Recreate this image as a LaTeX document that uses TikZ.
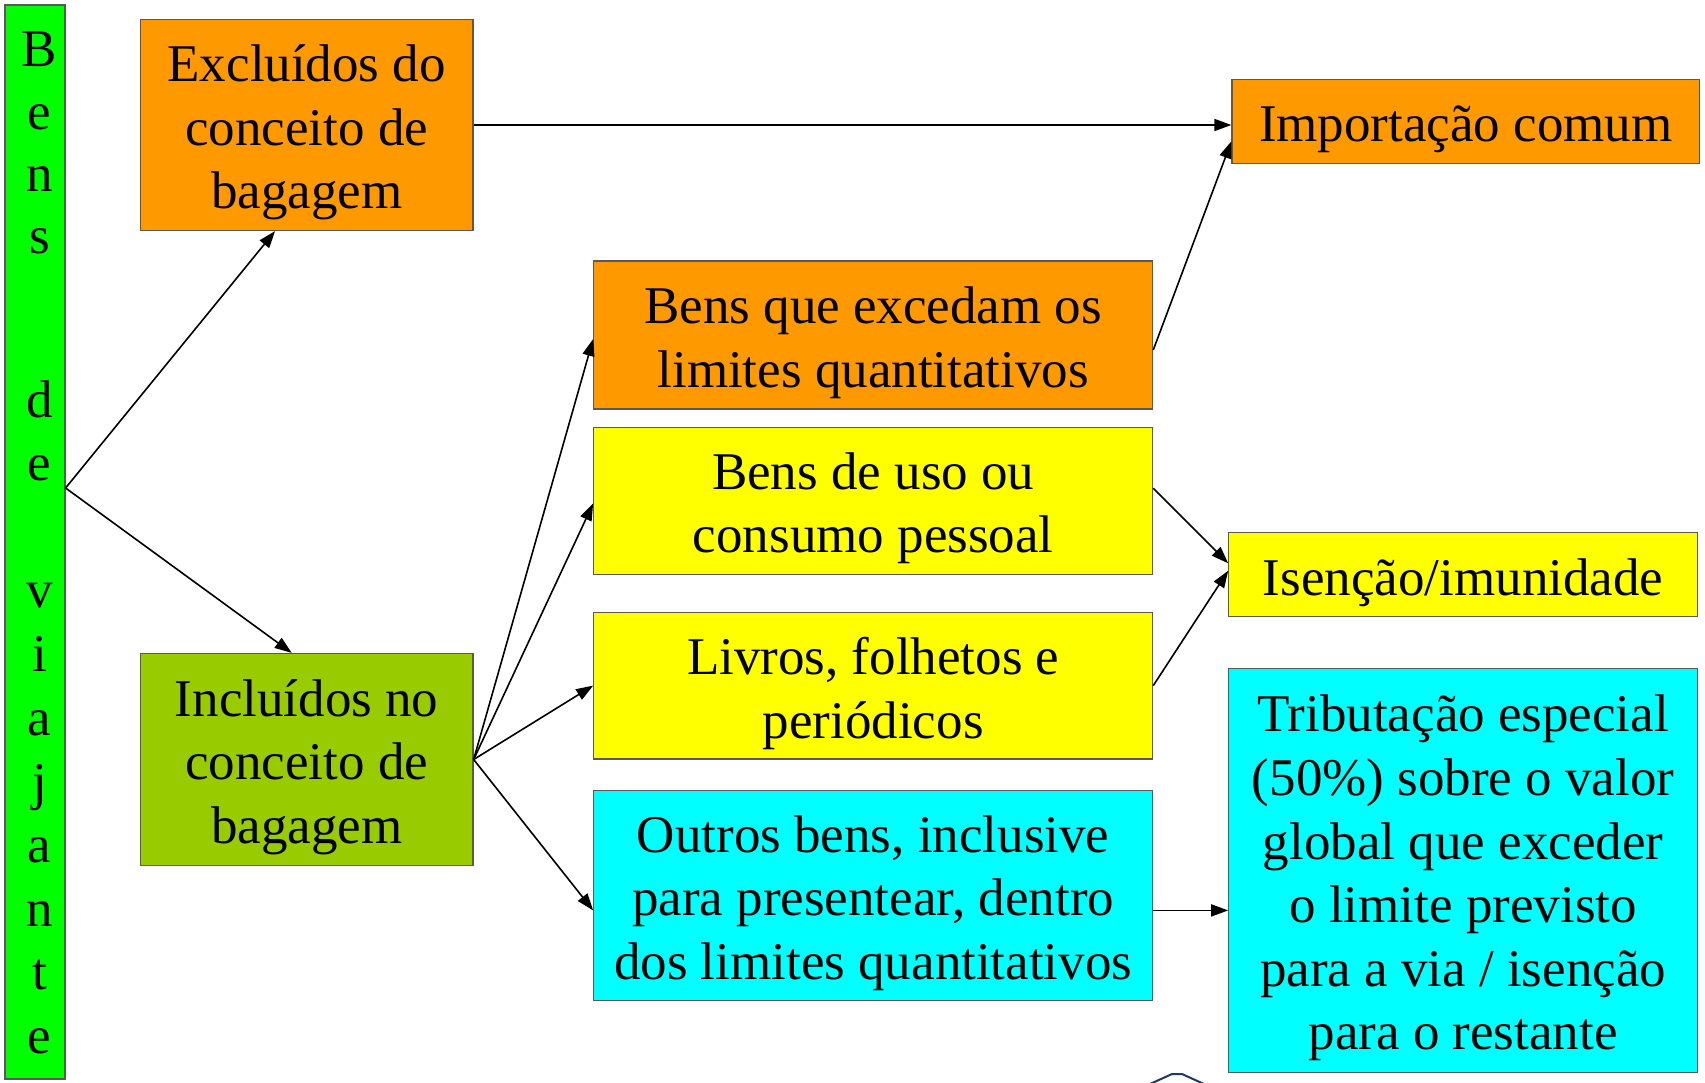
\documentclass[tikz,border=0pt]{standalone}
\usepackage{fontspec}
\setmainfont{Liberation Serif}
\usetikzlibrary{arrows.meta}
\definecolor{cOrange}{HTML}{FF9900}
\definecolor{cOlive}{HTML}{99CC00}
\definecolor{cYellow}{HTML}{FFFF00}
\definecolor{cCyan}{HTML}{00FFFF}
\definecolor{cGreen}{HTML}{00FF00}
\definecolor{cNavy}{HTML}{1F3864}
\begin{document}
\begin{tikzpicture}[x=1pt,y=-1pt,
  box/.style={draw=black!65, line width=1.2pt, inner sep=0pt},
  txt/.style={align=center, inner sep=0pt, font=\fontsize{53}{63.6}\selectfont},
  letter/.style={anchor=base, inner sep=0pt, font=\fontsize{53}{63.6}\selectfont},
  conn/.style={line width=1.6pt, -{Triangle[length=17pt,width=12pt]}}]
\useasboundingbox (0,0) rectangle (1705,1082);
\fill[white] (0,0) rectangle (1705,1082);
% green bar
\node[box, fill=cGreen, minimum width=60pt, minimum height=1074pt] (bar) at (35,542) {};
\node[letter] (l1) at (39.5,66.3) {B};
\node[letter] (l2) at (39.5,129.4) {e};
\node[letter] (l3) at (39.5,191.4) {n};
\node[letter] (l4) at (39.5,253.4) {s};
\node[letter] (l5) at (39.5,417.6) {d};
\node[letter] (l6) at (39.5,480.6) {e};
\node[letter] (l7) at (39.5,607.9) {v};
\node[letter] (l8) at (39.5,671) {i};
\node[letter] (l9) at (39.5,735.1) {a};
\node[letter] (l10) at (39.5,799.2) {j};
\node[letter] (l11) at (39.5,862.3) {a};
\node[letter] (l12) at (39.5,926.5) {n};
\node[letter] (l13) at (39.5,989.5) {t};
\node[letter] (l14) at (39.5,1053.7) {e};
% boxes
\node[box, fill=cOrange, minimum width=332.7pt, minimum height=210.9pt] (excl) at (306.7,125) {};
\node[box, fill=cOlive, minimum width=332.7pt, minimum height=212.1pt] (incl) at (306.7,759.5) {};
\node[box, fill=cOrange, minimum width=467.6pt, minimum height=83.7pt] (imp) at (1465.8,121.3) {};
\node[box, fill=cOrange, minimum width=558.9pt, minimum height=147.9pt] (exc) at (873.2,335) {};
\node[box, fill=cYellow, minimum width=558.9pt, minimum height=146.8pt] (uso) at (873.2,500.7) {};
\node[box, fill=cYellow, minimum width=558.9pt, minimum height=146.8pt] (liv) at (873.2,685.6) {};
\node[box, fill=cCyan, minimum width=558.9pt, minimum height=209.9pt] (out) at (873.2,895.4) {};
\node[box, fill=cYellow, minimum width=468.6pt, minimum height=83.8pt] (isen) at (1463.1,574.7) {};
\node[box, fill=cCyan, minimum width=468.6pt, minimum height=403.4pt] (trib) at (1463.1,870.5) {};
% texts
\node[txt] (excl-t) at ([yshift=-7.6pt]excl.center) {Excluídos do\\conceito de\\bagagem};
\node[txt] (incl-t) at ([yshift=-7.6pt]incl.center) {Incluídos no\\conceito de\\bagagem};
\node[txt] (imp-t) at ([yshift=-7.6pt]imp.center) {Importação comum};
\node[txt] (exc-t) at ([yshift=-7.6pt]exc.center) {Bens que excedam os\\limites quantitativos};
\node[txt] (uso-t) at ([yshift=-7.6pt]uso.center) {Bens de uso ou\\consumo pessoal};
\node[txt] (liv-t) at ([yshift=-7.6pt]liv.center) {Livros, folhetos e\\periódicos};
\node[txt] (out-t) at ([yshift=-7.6pt]out.center) {Outros bens, inclusive\\para presentear, dentro\\dos limites quantitativos};
\node[txt] (isen-t) at ([yshift=-7.6pt]isen.center) {Isenção/imunidade};
\node[txt] (trib-t) at ([yshift=-7.6pt]trib.center) {Tributação especial\\(50\%) sobre o valor\\global que exceder\\o limite previsto\\para a via / isenção\\para o restante};
% connectors
\draw[conn] ([yshift=54pt]bar.east) -- ([xshift=-31.6pt]excl.south);
\draw[conn] ([yshift=54pt]bar.east) -- ([xshift=-15pt]incl.north);
\draw[conn] (excl.east) -- (excl.east -| imp.west);
\draw[conn] ([yshift=-15pt]exc.east) -- ([yshift=-20pt]imp.west);
\draw[conn] ([yshift=12.5pt]uso.east) -- ([yshift=11.4pt]isen.west);
\draw[conn] (liv.east) -- ([yshift=4pt]isen.west);
\draw[conn] ([yshift=-15pt]out.east) -- ([yshift=-15pt]out.east -| trib.west);
\draw[conn] (incl.east) -- ([yshift=-4pt]exc.west);
\draw[conn] (incl.east) -- ([yshift=-2.8pt]uso.west);
\draw[conn] (incl.east) -- (liv.west);
\draw[conn] (incl.east) -- ([yshift=-15pt]out.west);
% partial shape at bottom edge
\draw[cNavy, line width=2pt] (1150,1084) -- (1172,1074) -- (1182,1074) -- (1204,1084);
\end{tikzpicture}
\end{document}
